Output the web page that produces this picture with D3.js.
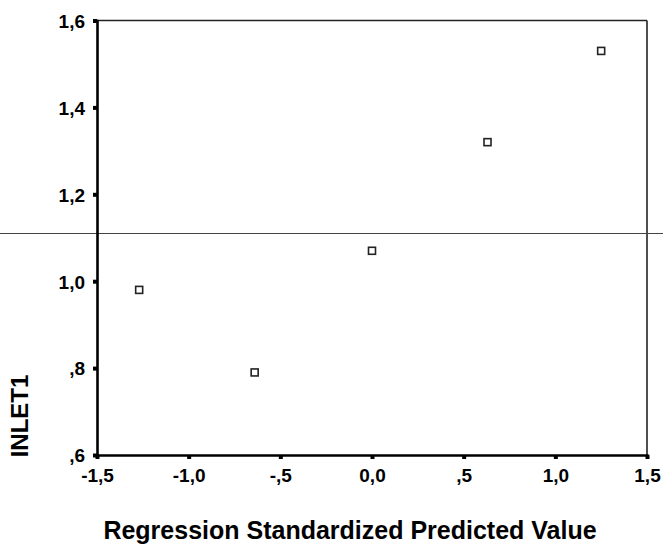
<!DOCTYPE html>
<html>
<head>
<meta charset="utf-8">
<script src="https://cdn.jsdelivr.net/npm/d3@7/dist/d3.min.js"></script>
<style>
  html, body { margin: 0; padding: 0; background: #fff; }
  svg { display: block; }
  text { font-family: "Liberation Sans", Arial, sans-serif; fill: #000; }
</style>
</head>
<body>
<script>
// Standardized predicted value vs. observed INLET1
const predicted = [-1.27, -0.64, 0.00, 0.63, 1.25];
const inlet1    = [0.98, 0.79, 1.07, 1.32, 1.53];

const xTicks = [-1.5, -1.0, -0.5, 0.0, 0.5, 1.0, 1.5];
const xTickLabels = ["-1,5", "-1,0", "-,5", "0,0", ",5", "1,0", "1,5"];
const yTicks = [0.6, 0.8, 1.0, 1.2, 1.4, 1.6];
const yTickLabels = [",6", ",8", "1,0", "1,2", "1,4", "1,6"];

const W = 663, H = 554;
const plotL = 97, plotR = 647, plotT = 20.5, plotB = 455;

const svg = d3.select("body").append("svg")
  .attr("width", W).attr("height", H);

const x = d3.scaleLinear().domain([-1.5, 1.5]).range([plotL, plotR]);
const y = d3.scaleLinear().domain([0.6, 1.6]).range([plotB, plotT]);

// thin frame on top and right
svg.append("line").attr("x1", plotL).attr("x2", plotR).attr("y1", plotT).attr("y2", plotT)
  .attr("stroke", "#222").attr("stroke-width", 1.6);
svg.append("line").attr("x1", plotR).attr("x2", plotR).attr("y1", plotT).attr("y2", plotB)
  .attr("stroke", "#222").attr("stroke-width", 1.6);

// horizontal rule across the page
svg.append("line").attr("x1", 0).attr("x2", W).attr("y1", 233.5).attr("y2", 233.5)
  .attr("stroke", "#444").attr("stroke-width", 1.2);

// left axis
const yAxis = d3.axisLeft(y)
  .tickValues(yTicks)
  .tickFormat((d, i) => yTickLabels[i])
  .tickSize(4).tickPadding(8);
const gy = svg.append("g").attr("transform", `translate(${plotL},0)`).call(yAxis);
gy.select(".domain").attr("stroke", "#000").attr("stroke-width", 2.6);
gy.selectAll(".tick line").attr("stroke", "#000").attr("stroke-width", 4);
gy.selectAll(".tick text")
  .attr("font-size", 19).attr("font-weight", "bold")
  .attr("dy", "0.36em");

// bottom axis
const xAxis = d3.axisBottom(x)
  .tickValues(xTicks)
  .tickFormat((d, i) => xTickLabels[i])
  .tickSize(4).tickPadding(10);
const gx = svg.append("g").attr("transform", `translate(0,${plotB})`).call(xAxis);
gx.select(".domain").attr("stroke", "#000").attr("stroke-width", 2.6);
gx.selectAll(".tick line").attr("stroke", "#000").attr("stroke-width", 4);
gx.selectAll(".tick text")
  .attr("font-size", 19).attr("font-weight", "bold");

// points: small open squares
const s = 7;
svg.append("g").selectAll("rect")
  .data(predicted.map((p, i) => ({ p, v: inlet1[i] })))
  .join("rect")
  .attr("x", d => x(d.p) - s / 2)
  .attr("y", d => y(d.v) - s / 2)
  .attr("width", s).attr("height", s)
  .attr("fill", "#fff")
  .attr("stroke", "#222")
  .attr("stroke-width", 1.6);

// axis titles
svg.append("text")
  .attr("x", 350).attr("y", 539)
  .attr("text-anchor", "middle")
  .attr("font-size", 25).attr("font-weight", "bold")
  .text("Regression Standardized Predicted Value");

svg.append("text")
  .attr("transform", "translate(28,416) rotate(-90)")
  .attr("text-anchor", "middle")
  .attr("font-size", 24).attr("font-weight", "bold")
  .text("INLET1");
</script>
</body>
</html>
